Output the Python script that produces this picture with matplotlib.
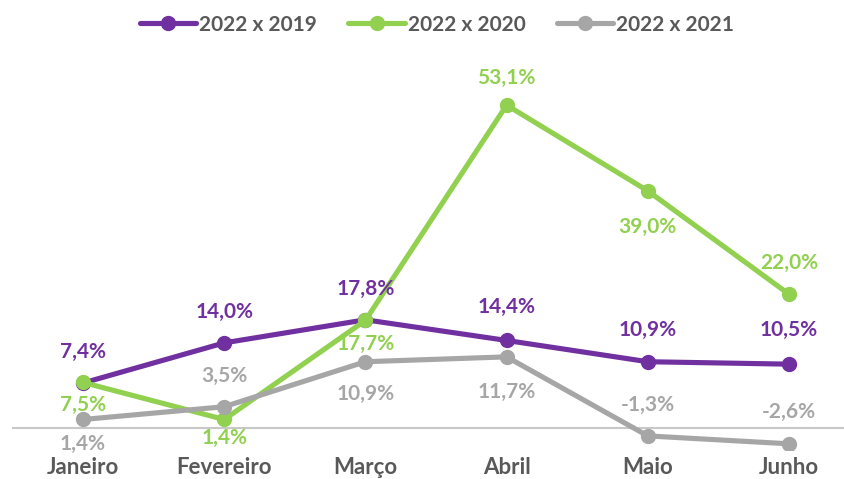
import matplotlib.pyplot as plt

meses = ['Janeiro', 'Fevereiro', 'Março', 'Abril', 'Maio', 'Junho']
v2019 = [7.4, 14.0, 17.8, 14.4, 10.9, 10.5]
v2020 = [7.5, 1.4, 17.7, 53.1, 39.0, 22.0]
v2021 = [1.4, 3.5, 10.9, 11.7, -1.3, -2.6]

# label offsets (pixels, negative = above the point)
series = [
    ('2022 x 2019', v2019, '#7030A0', [-31, -31, -31, -33, -32, -34]),
    ('2022 x 2020', v2020, '#92D050', [23, 18, 24, -27, 36, -31]),
    ('2022 x 2021', v2021, '#A6A6A6', [24, -31, 32, 35, -31, -32]),
]

plt.rcParams['font.family'] = ['Lato', 'DejaVu Sans']
plt.rcParams['font.weight'] = 'bold'

fig = plt.figure(figsize=(8.45, 4.79), dpi=100)
ax = fig.add_axes([12.4 / 845, 29 / 479, 1 - 12.4 / 845, 400 / 479])

x = list(range(len(meses)))
for nome, vals, cor, offs in series:
    ax.plot(x, vals, color=cor, lw=3.7, marker='o', ms=10, label=nome,
            solid_capstyle='round', zorder=3)
    for xi, v, o in zip(x, vals, offs):
        ax.annotate(f'{v:.1f}%'.replace('.', ','), (xi, v),
                    xytext=(0, -o), textcoords='offset pixels',
                    ha='center', va='center', color=cor,
                    fontsize=15, fontweight='bold', zorder=5)

ax.axhline(0, color='#C8C8C8', lw=1.5, zorder=1)
ax.set_xlim(-0.5, (845 - 83) / 141.2)
ax.set_ylim(-22 / 6.08, 378 / 6.08)
ax.set_xticks(x)
ax.set_xticklabels(meses, fontsize=16, fontweight='bold', color='#595959')
ax.tick_params(axis='x', length=0, pad=5)
ax.set_yticks([])
for sp in ax.spines.values():
    sp.set_visible(False)

fig.legend(loc='upper center', bbox_to_anchor=(437 / 845, 1.0), ncol=3,
           frameon=False, labelcolor='#595959',
           handlelength=2.7, handletextpad=0.15, columnspacing=1.5,
           borderaxespad=0.3,
           prop={'weight': 'bold', 'size': 15})

fig.savefig('out.png', dpi=100)
